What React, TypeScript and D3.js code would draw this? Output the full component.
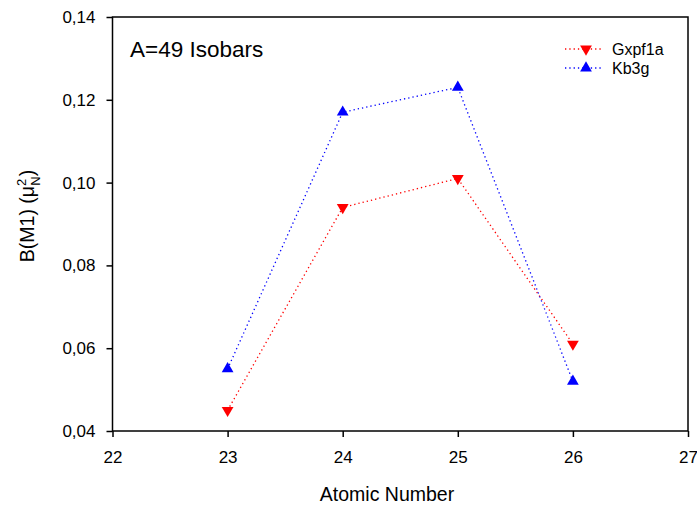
import React, { useEffect, useRef } from 'react'
import * as d3 from 'd3'

// data
const atomicNumbers = [23, 24, 25, 26]
const gxpf1a = [0.045, 0.094, 0.101, 0.061]
const kb3g = [0.055, 0.117, 0.123, 0.052]
const xTicks = [22, 23, 24, 25, 26, 27]
const yTicks = [0.04, 0.06, 0.08, 0.1, 0.12, 0.14]

const series = [
  { name: 'Gxpf1a', values: gxpf1a, color: '#ff0000', down: true },
  { name: 'Kb3g', values: kb3g, color: '#0000ff', down: false },
]

const W = 697
const H = 508
const margin = { top: 17, right: 9, bottom: 77, left: 112.5 }
const font = 'Arial, "Liberation Sans", sans-serif'

export default function App() {
  const ref = useRef<SVGSVGElement>(null)

  useEffect(() => {
    const svg = d3.select(ref.current)
    svg.selectAll('*').remove()

    const width = W - margin.left - margin.right
    const height = H - margin.top - margin.bottom

    const x = d3.scaleLinear().domain([22, 27]).range([0, width])
    const y = d3.scaleLinear().domain([0.04, 0.14]).range([height, 0])
    const fmt = (v: number) => d3.format('.2f')(v).replace('.', ',')

    const g = svg.append('g')
      .attr('transform', `translate(${margin.left},${margin.top})`)

    // frame
    g.append('rect')
      .attr('width', width)
      .attr('height', height)
      .attr('fill', 'none')
      .attr('stroke', '#000')
      .attr('stroke-width', 1.5)

    const xAxis = g.append('g')
      .attr('transform', `translate(0,${height})`)
      .call(d3.axisBottom(x).tickValues(xTicks).tickSize(6).tickPadding(14).tickFormat(d3.format('d')))
    const yAxis = g.append('g')
      .call(d3.axisLeft(y).tickValues(yTicks).tickSize(6).tickPadding(11).tickFormat(d => fmt(+d)))

    ;[xAxis, yAxis].forEach(a => {
      a.select('.domain').remove()
      a.selectAll('line').attr('stroke', '#000').attr('stroke-width', 1.5)
      a.selectAll('text')
        .attr('font-family', font)
        .attr('font-size', 17)
        .attr('fill', '#000')
    })

    // series lines and markers
    const line = d3.line<number>()
      .x((d, i) => x(atomicNumbers[i]))
      .y(d => y(d))

    series.forEach(s => {
      g.append('path')
        .datum(s.values)
        .attr('d', line)
        .attr('fill', 'none')
        .attr('stroke', s.color)
        .attr('stroke-width', 1.3)
        .attr('stroke-dasharray', '1.3,3')

      g.selectAll(null)
        .data(s.values)
        .enter()
        .append('path')
        .attr('d', d3.symbol(d3.symbolTriangle, 60))
        .attr('transform', (d, i) =>
          `translate(${x(atomicNumbers[i])},${y(d)})` + (s.down ? ' rotate(180)' : ''))
        .attr('fill', s.color)
    })

    // legend
    const legend = svg.append('g').attr('transform', 'translate(565,49)')
    series.forEach((s, i) => {
      const row = legend.append('g').attr('transform', `translate(0,${i * 19})`)
      row.append('line')
        .attr('x1', 0).attr('x2', 36)
        .attr('stroke', s.color)
        .attr('stroke-width', 1.3)
        .attr('stroke-dasharray', '1.3,3')
      row.append('path')
        .attr('d', d3.symbol(d3.symbolTriangle, 60))
        .attr('transform', `translate(21,0)` + (s.down ? ' rotate(180)' : ''))
        .attr('fill', s.color)
      row.append('text')
        .attr('x', 47)
        .attr('y', 5.5)
        .attr('font-family', font)
        .attr('font-size', 16)
        .text(s.name)
    })

    // annotation
    svg.append('text')
      .attr('x', 130)
      .attr('y', 57)
      .attr('font-family', font)
      .attr('font-size', 22.5)
      .text('A=49 Isobars')

    // axis titles
    svg.append('text')
      .attr('x', 387)
      .attr('y', 501)
      .attr('text-anchor', 'middle')
      .attr('font-family', font)
      .attr('font-size', 19.5)
      .text('Atomic Number')

    const yt = svg.append('text')
      .attr('transform', 'translate(34,216) rotate(-90)')
      .attr('text-anchor', 'middle')
      .attr('font-family', font)
      .attr('font-size', 19.5)
    yt.append('tspan').text('B(M1) (\u03bc')
    yt.append('tspan').attr('font-size', 13).attr('dy', -8).text('2')
    yt.append('tspan').attr('font-size', 13).attr('dx', -7).attr('dy', 14).text('N')
    yt.append('tspan').attr('dy', -6).text(')')
  }, [])

  return (
    <div style={{ position: 'absolute', left: 0, top: 0 }}>
      <svg ref={ref} width={W} height={H} style={{ display: 'block', background: '#fff' }} />
    </div>
  )
}
